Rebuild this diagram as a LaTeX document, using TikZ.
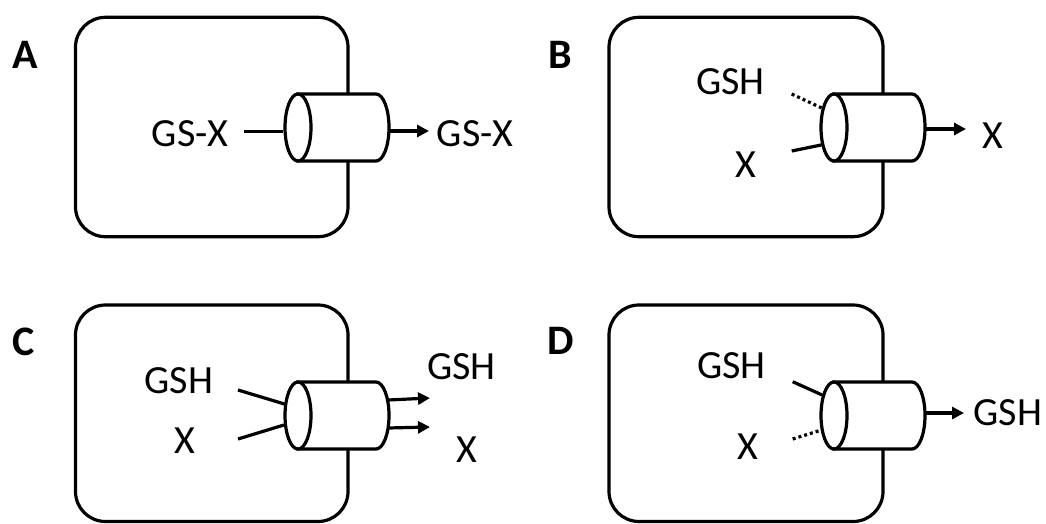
\documentclass[tikz,border=0pt]{standalone}
\usepackage{fontspec}
\setmainfont{Carlito}
\usetikzlibrary{arrows.meta,shapes.geometric}

\tikzset{
  cell/.style={draw, line width=3.2pt, rounded corners=30pt},
  tube/.style={draw, fill=white, line width=3.2pt},
  link/.style={line width=3.2pt},
  faint/.style={line width=3.2pt, dash pattern=on 3pt off 3pt},
  efflux/.style={line width=3.2pt, -{Triangle[length=12pt,width=12pt]}},
  mol/.style={inner sep=0pt, font=\fontsize{40}{45}\selectfont},
  tag/.style={inner sep=0pt, font=\fontsize{42}{48}\selectfont\bfseries},
}

% transporter: cylinder body with its open front face as a named ellipse
\newcommand\carrier[1]{%
  \path[tube] (298,94) -- (376,94)
    arc[start angle=90, end angle=-90, x radius=13pt, y radius=33.5pt]
    -- (298,161) -- cycle;
  \node[tube, ellipse, minimum width=26pt, minimum height=67pt, inner sep=0pt]
    (#1) at (298,127.5) {};
}

\begin{document}
\begin{tikzpicture}[x=1pt, y=-1pt]
\useasboundingbox (0,0) rectangle (1046,523);

% ---- A: conjugate exported
\begin{scope}
  \node[tag] (labA) at (25,55) {A};
  \draw[cell] (75.5,17.3) rectangle (348,236.7);
  \carrier{pA}
  \node[mol] (inGSXA) at (190,134) {GS-X};
  \node[mol] (outGSXA) at (475,134) {GS-X};
  \coordinate (srcA) at (244,131.5);
  \coordinate (rimA) at (389,131);
  \coordinate (tipA) at (429,131);
  \draw[link] (srcA) -- (srcA -| pA.west);
  \draw[efflux] (rimA) -- (tipA);
\end{scope}

% ---- B: GSH-stimulated export of X
\begin{scope}[shift={(536,0)}]
  \node[tag] (labB) at (24,55) {B};
  \draw[cell] (73,17.3) rectangle (347,236.7);
  \carrier{pB}
  \node[mol] (gshB) at (194.5,82) {GSH};
  \node[mol] (xB) at (210,164.5) {X};
  \node[mol] (xoutB) at (456.5,136) {X};
  \coordinate (gshsrcB) at (255.7,94);
  \coordinate (xsrcB) at (255.7,151);
  \coordinate (rimB) at (389,129);
  \coordinate (tipB) at (430,129);
  \draw[faint] (gshsrcB) -- (pB.122);
  \draw[link] (xsrcB) -- (pB.234);
  \draw[efflux] (rimB) -- (tipB);
\end{scope}

% ---- C: co-transport of GSH and X
\begin{scope}[shift={(0,288)}]
  \node[tag] (labC) at (24,54) {C};
  \draw[cell] (75.5,17) rectangle (348,233.5);
  \carrier{pC}
  \node[mol] (gshC) at (179,92.5) {GSH};
  \node[mol] (xC) at (184.5,152.5) {X};
  \node[mol] (gshoutC) at (461.5,78.5) {GSH};
  \node[mol] (xoutC) at (467,162) {X};
  \coordinate (gshsrcC) at (238,102);
  \coordinate (xsrcC) at (238,151);
  \coordinate (rimC1) at (388,112);
  \coordinate (tipC1) at (430,110);
  \coordinate (rimC2) at (388,140);
  \coordinate (tipC2) at (430,139);
  \draw[link] (gshsrcC) -- (pC.140);
  \draw[link] (xsrcC) -- (pC.214);
  \draw[efflux] (rimC1) -- (tipC1);
  \draw[efflux] (rimC2) -- (tipC2);
\end{scope}

% ---- D: X-stimulated export of GSH
\begin{scope}[shift={(536,288)}]
  \node[tag] (labD) at (24.5,53) {D};
  \draw[cell] (73,17) rectangle (347,233.5);
  \carrier{pD}
  \node[mol] (gshD) at (195.5,78) {GSH};
  \node[mol] (xD) at (211.5,159) {X};
  \node[mol] (gshoutD) at (472,124.5) {GSH};
  \coordinate (gshsrcD) at (256.7,93.7);
  \coordinate (xsrcD) at (256.7,151);
  \coordinate (rimD) at (389,125);
  \coordinate (tipD) at (428,125);
  \draw[link] (gshsrcD) -- (pD.120);
  \draw[faint] (xsrcD) -- (pD.228);
  \draw[efflux] (rimD) -- (tipD);
\end{scope}
\end{tikzpicture}
\end{document}
